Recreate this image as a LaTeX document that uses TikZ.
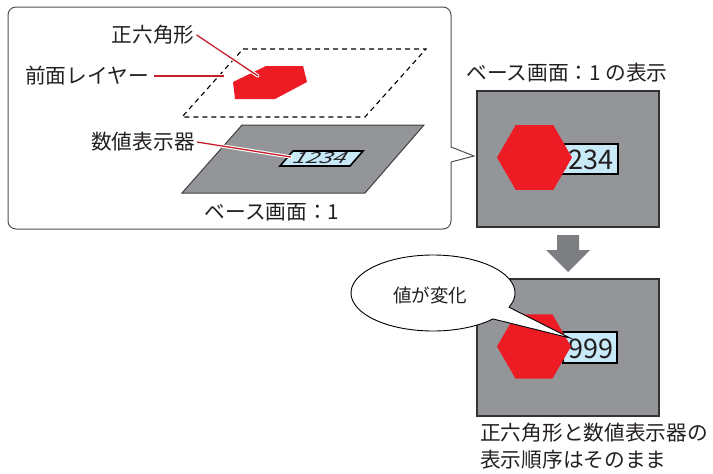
\documentclass[tikz,border=0pt]{standalone}
\usepackage{fontspec}
\setmainfont{Noto Sans CJK JP}
\usetikzlibrary{shapes.geometric}
\definecolor{hexred}{HTML}{ED1C24}
\definecolor{scrgray}{HTML}{939598}
\definecolor{linered}{HTML}{C8202A}
\definecolor{dispblue}{HTML}{C7E9F8}
\definecolor{arrowgray}{HTML}{7D7E81}
\definecolor{framegray}{HTML}{505050}
\definecolor{txt}{HTML}{231F20}
\begin{document}
\begin{tikzpicture}[x=1pt,y=-1pt,
  lbl/.style={font=\fontsize{20.7}{27}\selectfont, inner sep=0pt, text=txt},
  leader/.style={draw=linered, line width=1.3pt, preaction={draw=white, line width=3.4pt, line cap=round}},
  panel/.style={draw=framegray, line width=1pt},
  screen/.style={fill=scrgray, draw=black!80, line width=1.4pt},
  disp/.style={fill=dispblue, draw=black, line width=1.8pt},
  digit/.style={font=\fontsize{27}{30}\selectfont, inner sep=0pt, text=txt},
  hexa/.style={fill=hexred}]
\useasboundingbox (0,0) rectangle (713,474);
% left panel with pointer
\draw[panel, rounded corners=8pt] (451,147) -- (451,7) -- (8,7) -- (8,229) -- (451,229) -- (451,162);
\draw[panel, line join=miter] (451,147) -- (474,156) -- (451,162);
% front layer (dashed)
\draw[black, line width=1.1pt, dash pattern=on 5pt off 4pt] (243,49) -- (426,49) -- (365,117) -- (182,117) -- cycle;
\fill[hexa] (233,82) -- (266,66) -- (303,66) -- (307,82) -- (275,99) -- (235,99) -- cycle;
% base screen plane
\draw[fill=scrgray, draw=black!75, line width=1pt] (242,125) -- (424,125) -- (365,193) -- (182,193) -- cycle;
\draw[disp, line width=1.6pt] (293,151) -- (363,151) -- (350,166) -- (280,166) -- cycle;
\node[font=\fontsize{24}{26}\selectfont, inner sep=0pt, text=txt, transform shape, xslant=0.65, yscale=0.64] (num0) at (321,158.5) {1234};
% labels
\node[lbl] (hexlbl) at (153,35) {正六角形};
\node[lbl] (laylbl) at (87,76) {前面レイヤー};
\node[lbl] (numlbl) at (143,142) {数値表示器};
\node[lbl] (baselbl) at (272,212) {ベース画面：1};
\coordinate (hexpt) at (258,76);
\coordinate (laypt) at (224,76);
\coordinate (numpt) at (291,157);
\draw[leader] ([xshift=2pt]hexlbl.east) -- (hexpt);
\draw[leader] ([xshift=5pt]laylbl.east) -- (laypt);
\draw[leader] ([xshift=2pt]numlbl.east) -- (numpt);
% right top: display of base screen 1
\node[lbl] (showlbl) at (567,73) {ベース画面：1 の表示};
\draw[screen] (477,91) rectangle (659,227);
\draw[disp] (562,144) rectangle (618,174);
\node[digit, anchor=base east] (num1) at (614,169) {1234};
\fill[hexa] (534.5,157.5) ++(0:37.5) -- ++(120:37.5) -- ++(180:37.5) -- ++(240:37.5) -- ++(300:37.5) -- ++(0:37.5) -- cycle;
% down arrow
\fill[arrowgray] (557,235) -- (579,235) -- (579,250) -- (590,250) -- (568,272) -- (546,250) -- (557,250) -- cycle;
% bottom screen
\draw[screen] (477,279) rectangle (659,416);
\draw[disp] (563,332) rectangle (617,363);
\node[digit, anchor=base east] (num2) at (614,358) {9999};
\fill[hexa] (534,346.5) ++(0:37) -- ++(120:37) -- ++(180:37) -- ++(240:37) -- ++(300:37) -- ++(0:37) -- cycle;
% balloon
\draw[fill=white, draw=black, line width=0.9pt, line join=miter] (433,293) ++(43:82 and 38) arc[start angle=43, end angle=382, x radius=82, y radius=38] -- (570,338) -- cycle;
\node[lbl, font=\fontsize{18.5}{22}\selectfont] (chg) at (430,295) {値が変化};
\node[lbl, align=left, anchor=west] (keeplbl) at (480,446.5) {正六角形と数値表示器の\\表示順序はそのまま};
\end{tikzpicture}
\end{document}
